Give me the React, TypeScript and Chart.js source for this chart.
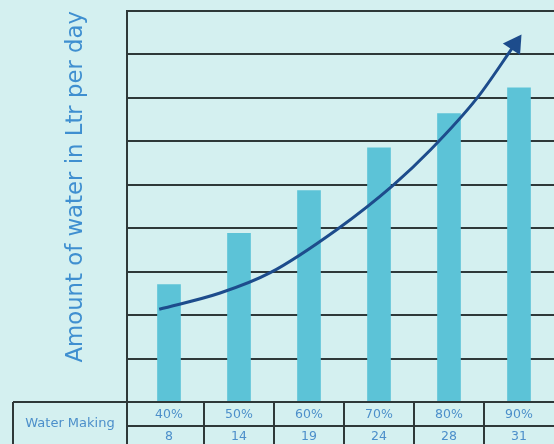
import React, { useEffect, useRef } from "react";
import { Chart, registerables } from "chart.js";

Chart.register(...registerables);

// ---- data ----
const categories = ["40%", "50%", "60%", "70%", "80%", "90%"];
const waterValues = [8, 14, 19, 24, 28, 31];
const rowLabel = "Water Making";
const yTitle = "Amount of water in Ltr per day";
// trend arrow (x in category index units, y in value units)
const trendX = [-0.14, 0.73, 1.44, 2.41, 3.2, 3.73, 4.4, 4.94];
const trendY = [5.1, 7.0, 9.35, 14.5, 19.6, 23.7, 29.8, 36.1];
const yMin = -5.75;
const yMax = 40;

const BG = "#d4f0f0";
const BAR = "#5cc3d7";
const CURVE = "#1d4c8c";
const LINE = "#2e3838";
const TEXT_BLUE = "#3f8fd0";
const TABLE_TEXT = "#4c8fca";
const FONT = "'DejaVu Sans'";

const tablePlugin = {
  id: "bottomTable",
  afterDraw(chart: any) {
    const { ctx, chartArea } = chart;
    const n = categories.length;
    const xs = chart.scales.x;
    const w = xs.getPixelForValue(1) - xs.getPixelForValue(0);
    const top = chartArea.bottom;
    const mid = top + 24;
    const bottom = top + 50;
    const cellLeft = 13;
    ctx.save();
    ctx.strokeStyle = LINE;
    ctx.lineWidth = 2;
    ctx.beginPath();
    ctx.moveTo(cellLeft, top);
    ctx.lineTo(chartArea.right, top);
    ctx.moveTo(chartArea.left, mid);
    ctx.lineTo(chartArea.right, mid);
    ctx.moveTo(cellLeft, top);
    ctx.lineTo(cellLeft, bottom);
    ctx.moveTo(chartArea.left, top);
    ctx.lineTo(chartArea.left, bottom);
    for (let i = 1; i < n; i++) {
      const x = xs.getPixelForValue(i) - w / 2;
      ctx.moveTo(x, top);
      ctx.lineTo(x, bottom);
    }
    ctx.stroke();
    ctx.fillStyle = TABLE_TEXT;
    ctx.textAlign = "center";
    ctx.textBaseline = "middle";
    ctx.font = "13px " + FONT;
    ctx.fillText(rowLabel, (cellLeft + chartArea.left) / 2, top + 22);
    ctx.font = "12.5px " + FONT;
    for (let i = 0; i < n; i++) {
      const cx = xs.getPixelForValue(i);
      ctx.fillText(categories[i], cx, top + 13);
      ctx.fillText(String(waterValues[i]), cx, mid + 11);
    }
    ctx.restore();
  },
};

export default function App() {
  const ref = useRef<HTMLCanvasElement>(null);
  useEffect(() => {
    if (!ref.current) return;
    const n = trendX.length;
    const chart = new Chart(ref.current, {
      type: "bar",
      data: {
        datasets: [
          {
            type: "line",
            data: trendX.map((x, i) => ({ x, y: trendY[i] })),
            borderColor: CURVE,
            backgroundColor: CURVE,
            borderWidth: 3,
            cubicInterpolationMode: "monotone",
            pointRadius: trendX.map((_, i) => (i === n - 1 ? 12 : 0)),
            pointStyle: "triangle",
            rotation: 34,
            pointBorderWidth: 0,
            order: 0,
          } as any,
          {
            type: "bar",
            data: waterValues.map((v, i) => ({ x: i, y: v })),
            backgroundColor: BAR,
            base: yMin,
            grouped: false,
            barThickness: 23,
            order: 1,
          } as any,
        ],
      },
      options: {
        animation: false,
        responsive: true,
        maintainAspectRatio: false,
        layout: { autoPadding: false, padding: { left: 0, top: 11, right: 0, bottom: 42 } },
        plugins: { legend: { display: false }, tooltip: { enabled: false } },
        scales: {
          x: { type: "linear", display: false, min: -0.6, max: 5.5, offset: false },
          y: {
            type: "linear",
            min: yMin,
            max: yMax,
            afterBuildTicks: (scale: any) => {
              scale.ticks = Array.from({ length: 10 }, (_, i) => ({
                value: yMin + (i * (yMax - yMin)) / 9,
              }));
            },
            afterFit: (scale: any) => {
              scale.width = 127;
            },
            ticks: { display: false },
            grid: { color: LINE, lineWidth: 2, drawTicks: false },
            border: { display: true, color: LINE, width: 2 },
            title: {
              display: true,
              text: yTitle,
              align: "end",
              color: TEXT_BLUE,
              font: { size: 22.8, family: FONT },
              padding: { top: 62, bottom: 0 },
            },
          },
        },
      } as any,
      plugins: [tablePlugin],
    });
    return () => chart.destroy();
  }, []);
  return (
    <div
      style={{
        position: "absolute",
        left: 0,
        top: 0,
        width: 554,
        height: 444,
        background: BG,
        overflow: "hidden",
      }}
    >
      <canvas ref={ref} />
    </div>
  );
}
